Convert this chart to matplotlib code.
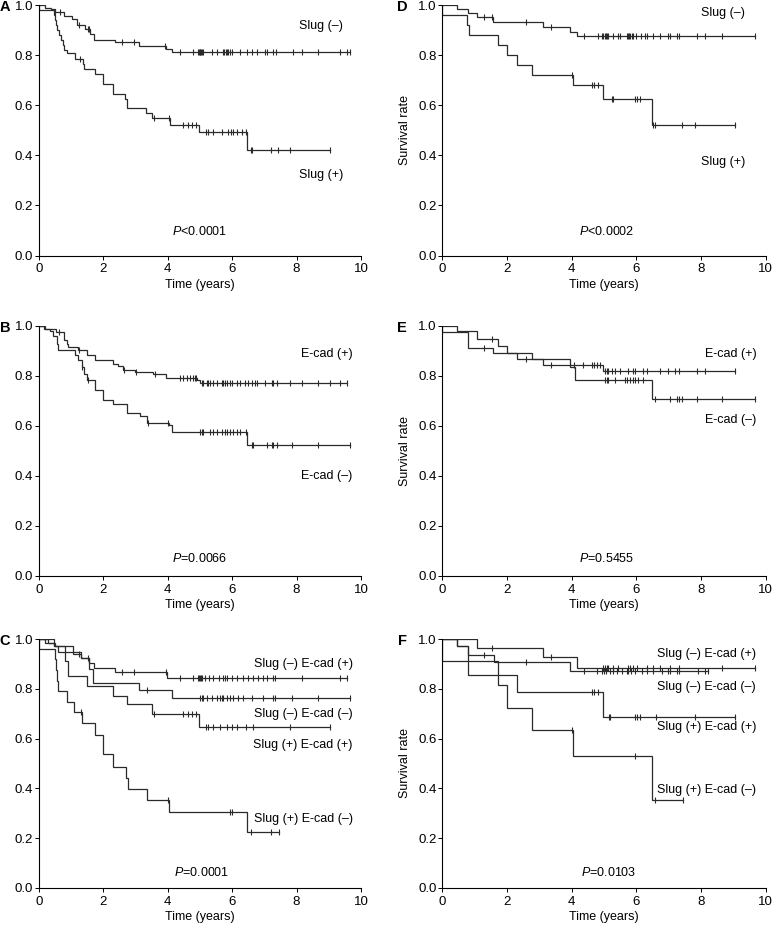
#!/usr/bin/env python3
"""Kaplan-Meier panels A-F: Slug / E-cadherin survival curves."""

import numpy as np
import matplotlib

matplotlib.use("Agg")
import matplotlib.pyplot as plt

# ---- panel A : Slug, overall survival ----
A_NEG_T = [0.21, 0.38, 0.50, 0.77, 1.03, 1.20, 1.45, 1.60, 1.73, 2.37, 3.12, 3.95, 4.14]
A_NEG_S = [0.990, 0.983, 0.972, 0.955, 0.945, 0.920, 0.905, 0.885, 0.862, 0.851, 0.838, 0.825, 0.813]
A_NEG_C = [0.52, 0.66, 1.26, 1.52, 1.57, 2.60, 2.97, 3.93, 4.38, 4.80, 4.93, 4.96, 4.99, 5.02,
           5.05, 5.08, 5.11, 5.37, 5.52, 5.73, 5.76, 5.80, 5.84, 5.88, 5.92, 6.00, 6.25, 6.45,
           6.61, 6.76, 7.02, 7.07, 7.28, 7.36, 7.90, 8.16, 8.68, 9.35, 9.56, 9.66]
A_POS_T = [0.0, 0.46, 0.50, 0.54, 0.58, 0.63, 0.68, 0.74, 0.80, 0.87, 1.13, 1.37, 1.42, 1.75,
           1.99, 2.30, 2.68, 2.73, 3.32, 3.51, 4.07, 4.97, 6.47]
A_POS_S = [0.980, 0.960, 0.940, 0.920, 0.900, 0.880, 0.860, 0.840, 0.820, 0.807, 0.783, 0.765,
           0.745, 0.725, 0.684, 0.644, 0.625, 0.588, 0.568, 0.547, 0.521, 0.495, 0.422]
A_POS_C = [1.28, 3.59, 4.03, 4.49, 4.62, 4.75, 4.88, 5.18, 5.26, 5.42, 5.68, 5.88, 5.97, 6.04,
           6.16, 6.30, 6.43, 6.58, 6.63, 7.20, 7.41, 7.80, 9.04]

# ---- panel B : E-cadherin, overall survival ----
B_POS_T = [0.20, 0.55, 0.77, 0.80, 0.87, 0.92, 1.23, 1.49, 1.75, 2.30, 2.47, 2.63, 2.99, 3.56,
           3.94, 4.90, 5.00]
B_POS_S = [0.990, 0.977, 0.963, 0.945, 0.930, 0.916, 0.903, 0.883, 0.863, 0.850, 0.840, 0.825,
           0.816, 0.807, 0.793, 0.783, 0.772]
B_POS_C = [0.64, 1.25, 2.65, 3.02, 3.61, 4.38, 4.49, 4.59, 4.69, 4.80, 4.85, 4.88, 5.06, 5.11,
           5.21, 5.26, 5.32, 5.42, 5.54, 5.68, 5.73, 5.78, 5.83, 5.94, 5.99, 6.14, 6.25, 6.40,
           6.50, 6.61, 6.71, 6.76, 7.02, 7.23, 7.28, 7.38, 7.80, 8.16, 8.68, 9.04, 9.35, 9.56]
B_NEG_T = [0.15, 0.35, 0.45, 0.56, 0.61, 1.13, 1.23, 1.33, 1.40, 1.51, 1.75, 2.00, 2.32, 2.73,
           3.14, 3.35, 4.04, 4.13, 6.45]
B_NEG_S = [0.990, 0.980, 0.960, 0.930, 0.903, 0.883, 0.863, 0.836, 0.810, 0.783, 0.743, 0.703,
           0.690, 0.652, 0.639, 0.613, 0.603, 0.576, 0.523]
B_NEG_C = [1.35, 1.53, 3.40, 4.01, 5.00, 5.06, 5.11, 5.32, 5.42, 5.52, 5.68, 5.78, 5.83, 5.94,
           6.04, 6.14, 6.25, 6.43, 6.61, 6.66, 7.07, 7.23, 7.28, 7.38, 7.87, 8.68, 9.66]

# ---- panel C : Slug x E-cadherin, overall survival ----
C1_T = [0.49, 1.05, 1.30, 1.57, 1.73, 2.37, 3.97]
C1_S = [0.970, 0.940, 0.925, 0.905, 0.885, 0.867, 0.845]
C1_C = [1.25, 2.60, 2.97, 3.95, 4.38, 4.80, 4.95, 4.98, 5.00, 5.03, 5.06, 5.17, 5.27, 5.42,
        5.60, 5.72, 5.78, 5.85, 6.00, 6.14, 6.35, 6.50, 6.66, 6.80, 6.97, 7.07, 7.28, 7.33,
        8.16, 9.35, 9.56]
C2_T = [0.20, 0.49, 0.60, 1.30, 1.57, 1.68, 3.12, 4.15]
C2_S = [0.985, 0.970, 0.948, 0.925, 0.878, 0.823, 0.796, 0.763]
C2_C = [1.52, 3.35, 5.00, 5.06, 5.11, 5.21, 5.37, 5.52, 5.63, 5.68, 5.73, 5.83, 5.94, 6.04,
        6.19, 6.35, 6.61, 6.97, 7.28, 7.33, 7.85, 8.68, 9.66]
C3_T = [0.30, 0.50, 0.82, 0.90, 1.50, 2.32, 2.73, 3.50, 4.98]
C3_S = [0.985, 0.970, 0.910, 0.853, 0.813, 0.773, 0.740, 0.700, 0.648]
C3_C = [3.59, 4.49, 4.62, 4.75, 4.88, 5.18, 5.26, 5.42, 5.63, 5.83, 5.99, 6.14, 6.43, 6.66,
        7.80, 9.04]
C4_T = [0.0, 0.50, 0.53, 0.56, 0.60, 0.87, 1.10, 1.33, 1.75, 1.99, 2.29, 2.71, 2.78, 3.35,
        4.05, 6.47]
C4_S = [0.960, 0.920, 0.875, 0.833, 0.790, 0.747, 0.707, 0.664, 0.616, 0.540, 0.487, 0.440,
        0.396, 0.353, 0.304, 0.224]
C4_C = [1.30, 4.02, 5.94, 5.99, 6.58, 7.20, 7.45]

# ---- panel D : Slug, disease-free ----
D_NEG_T = [0.44, 0.80, 1.06, 1.58, 3.12, 3.95, 4.15]
D_NEG_S = [0.983, 0.967, 0.951, 0.931, 0.914, 0.894, 0.878]
D_NEG_C = [1.30, 1.55, 2.60, 3.35, 4.38, 4.82, 4.93, 4.98, 5.02, 5.06, 5.10, 5.13, 5.29, 5.42,
           5.49, 5.70, 5.74, 5.78, 5.80, 5.86, 5.91, 6.00, 6.14, 6.27, 6.32, 6.53, 6.73, 6.97,
           7.04, 7.25, 7.32, 7.87, 8.12, 8.64, 9.67]
D_POS_T = [0.0, 0.77, 0.84, 1.71, 1.99, 2.30, 2.78, 4.05, 4.96, 6.47]
D_POS_S = [0.960, 0.920, 0.880, 0.840, 0.800, 0.760, 0.720, 0.680, 0.625, 0.520]
D_POS_C = [4.02, 4.62, 4.70, 4.80, 5.24, 5.29, 5.96, 6.01, 6.11, 6.53, 6.58, 7.42, 7.81, 9.05]

# ---- panel E : E-cadherin, disease-free ----
E_POS_T = [0.44, 1.06, 1.73, 2.00, 2.30, 3.12, 4.98]
E_POS_S = [0.980, 0.947, 0.920, 0.893, 0.867, 0.843, 0.820]
E_POS_C = [1.55, 2.60, 3.35, 4.08, 4.36, 4.62, 4.70, 4.77, 4.88, 5.03, 5.08, 5.13, 5.24, 5.34,
           5.49, 5.75, 5.91, 5.96, 6.22, 6.32, 6.73, 6.99, 7.20, 7.32, 7.87, 8.12, 9.05]
E_NEG_T = [0.0, 0.80, 1.58, 2.78, 3.95, 4.10, 6.47]
E_NEG_S = [0.976, 0.913, 0.893, 0.869, 0.836, 0.783, 0.707]
E_NEG_C = [1.30, 5.03, 5.08, 5.13, 5.34, 5.65, 5.70, 5.80, 5.91, 5.96, 6.06, 6.22, 6.58, 7.04,
           7.25, 7.32, 7.40, 7.87, 8.64, 9.67]

# ---- panel F : Slug x E-cadherin, disease-free ----
F1_T = [1.06, 3.12, 4.15]
F1_S = [0.964, 0.927, 0.884]
F1_C = [1.55, 3.35, 4.98, 5.03, 5.08, 5.13, 5.29, 5.42, 5.75, 5.80, 5.91, 6.01, 6.32, 6.53,
        6.73, 7.04, 7.32, 8.64, 9.67]
F2_T = [0.44, 0.80, 1.60, 3.95]
F2_S = [0.970, 0.935, 0.908, 0.871]
F2_C = [1.30, 2.60, 4.38, 4.77, 4.93, 5.00, 5.06, 5.19, 5.29, 5.41, 5.55, 5.70, 5.75, 5.82,
        5.96, 6.16, 6.32, 6.53, 6.78, 6.99, 7.04, 7.25, 7.32, 7.92, 8.12, 8.23]
F3_T = [0.44, 0.80, 2.30, 4.96]
F3_S = [0.970, 0.856, 0.787, 0.687]
F3_C = [4.62, 4.70, 4.80, 5.15, 5.20, 5.96, 6.01, 6.11, 6.60, 7.81, 9.05]
F4_T = [0.0, 1.71, 1.99, 2.78, 4.05, 6.47]
F4_S = [0.910, 0.816, 0.724, 0.635, 0.530, 0.353]
F4_C = [4.02, 5.96, 6.58, 7.45]

LAB_SLUG = ["Slug (\u2013)", "Slug (+)"]
LAB_ECAD = ["E-cad (+)", "E-cad (\u2013)"]
LAB_COMBO = ["Slug (\u2013) E-cad (+)", "Slug (\u2013) E-cad (\u2013)",
             "Slug (+) E-cad (+)", "Slug (+) E-cad (\u2013)"]
P_TEXT = ["<0.0001", "=0.0066", "=0.0001", "<0.0002", "=0.5455", "=0.0103"]

W, H = 773, 925
LINE = "#2a2a2a"


def km(ax, times, surv, cens):
    t = np.concatenate([[0.0], times])
    s = np.concatenate([[1.0], surv])
    end = max(max(cens), t[-1])
    ax.step(np.append(t, end), np.append(s, s[-1]), where="post",
            color=LINE, lw=0.9, solid_joinstyle="miter")
    idx = np.searchsorted(t, cens, side="right") - 1
    ax.plot(cens, s[idx], ls="none", marker="|", ms=4.5, mew=0.8, color=LINE)


def main() -> None:
    plt.rcParams.update({
        "font.family": "Liberation Sans",
        "font.size": 9,
        "mathtext.fontset": "custom",
        "mathtext.it": "Liberation Sans:italic",
        "mathtext.rm": "Liberation Sans",
    })
    fig = plt.figure(figsize=(W / 100, H / 100), dpi=100)

    # pixel boxes of each axes (left, right) and (top, bottom)
    cols = [(38.7, 361.0), (442.3, 765.7)]
    rows = [(5.0, 255.5), (326.0, 576.0), (639.0, 888.0)]

    panels = [
        ("A", 0, 0, [(A_NEG_T, A_NEG_S, A_NEG_C), (A_POS_T, A_POS_S, A_POS_C)],
         [(9.45, 0.915, LAB_SLUG[0]), (9.45, 0.32, LAB_SLUG[1])], (5.0, 0.095)),
        ("B", 0, 1, [(B_POS_T, B_POS_S, B_POS_C), (B_NEG_T, B_NEG_S, B_NEG_C)],
         [(9.74, 0.89, LAB_ECAD[0]), (9.74, 0.40, LAB_ECAD[1])], (5.0, 0.07)),
        ("C", 0, 2, [(C1_T, C1_S, C1_C), (C2_T, C2_S, C2_C), (C3_T, C3_S, C3_C),
                     (C4_T, C4_S, C4_C)],
         [(9.74, 0.90, LAB_COMBO[0]), (9.74, 0.70, LAB_COMBO[1]),
          (9.74, 0.573, LAB_COMBO[2]), (9.74, 0.276, LAB_COMBO[3])], (5.05, 0.063)),
        ("D", 1, 0, [(D_NEG_T, D_NEG_S, D_NEG_C), (D_POS_T, D_POS_S, D_POS_C)],
         [(9.36, 0.968, LAB_SLUG[0]), (9.36, 0.372, LAB_SLUG[1])], (5.08, 0.095)),
        ("E", 1, 1, [(E_POS_T, E_POS_S, E_POS_C), (E_NEG_T, E_NEG_S, E_NEG_C)],
         [(9.72, 0.89, LAB_ECAD[0]), (9.72, 0.623, LAB_ECAD[1])], (5.08, 0.07)),
        ("F", 1, 2, [(F1_T, F1_S, F1_C), (F2_T, F2_S, F2_C), (F3_T, F3_S, F3_C),
                     (F4_T, F4_S, F4_C)],
         [(9.70, 0.94, LAB_COMBO[0]), (9.70, 0.807, LAB_COMBO[1]),
          (9.70, 0.647, LAB_COMBO[2]), (9.70, 0.393, LAB_COMBO[3])], (5.13, 0.063)),
    ]

    for k, (letter, ci, ri, curves, labels, ppos) in enumerate(panels):
        x0, x1 = cols[ci]
        y0, y1 = rows[ri]
        ax = fig.add_axes([x0 / W, 1 - y1 / H, (x1 - x0) / W, (y1 - y0) / H])
        for times, surv, cens in curves:
            km(ax, times, surv, cens)
        for tx, ty, txt in labels:
            ax.text(tx, ty, txt, ha="right", va="center", fontsize=9)
        ax.text(ppos[0], ppos[1], "$P$" + P_TEXT[k], ha="center", va="center", fontsize=9)

        ax.set_xlim(0, 10)
        ax.set_ylim(0, 1)
        ax.set_xticks(range(0, 11, 2))
        ax.set_yticks(np.arange(0, 1.01, 0.2))
        ax.set_yticklabels([f"{v:.1f}" for v in np.arange(0, 1.01, 0.2)])
        for side in ("top", "right"):
            ax.spines[side].set_visible(False)
        for side in ("left", "bottom"):
            ax.spines[side].set_linewidth(0.8)
        ax.tick_params(direction="out", length=2.6, width=0.7, labelsize=9.5)
        ax.tick_params(axis="x", pad=3.0)
        ax.tick_params(axis="y", pad=1.5)
        ax.set_xlabel("Time (years)", fontsize=9)
        ax.xaxis.set_label_coords(0.5, -23.0 / (y1 - y0))
        if ci == 1:
            ax.set_ylabel("Survival rate", fontsize=9)
            ax.yaxis.set_label_coords((411 - x0) / (x1 - x0), 0.5)

        lx = 5.0 if ci == 0 else 402.0
        fig.text(lx / W, 1 - (y0 + 2) / H, letter, ha="center", va="center",
                 fontsize=10.5, fontweight="bold")

    fig.savefig("out.png", dpi=100)
    plt.close(fig)


if __name__ == "__main__":
    main()
